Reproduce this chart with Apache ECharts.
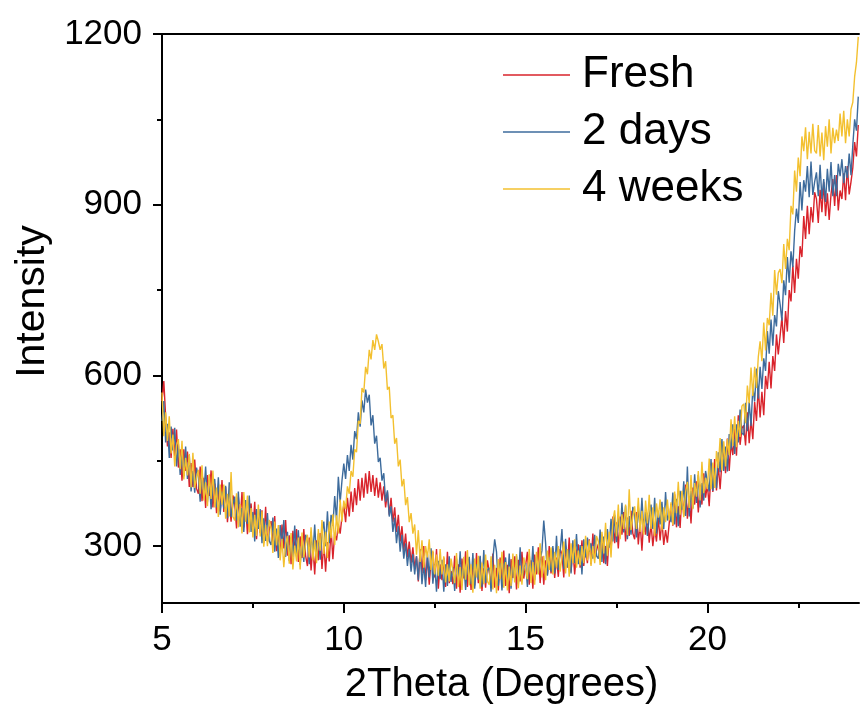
<!DOCTYPE html>
<html>
<head>
<meta charset="utf-8">
<script src="https://cdn.jsdelivr.net/npm/echarts@6/dist/echarts.min.js"></script>
<style>
html,body{margin:0;padding:0;background:#fff;}
#chart{width:861px;height:707px;}
</style>
</head>
<body>
<div id="chart"></div>
<script>
// 2Theta sampling grid (degrees)
var X_START = 5.0;
var X_STEP = 0.05;

// Intensity values, one row per degree (5.00 ... 24.15)
var fresh = [
555,590,528,475,500,455,506,458,505,438,470,415,470,432,466,404,446,404,452,401,
392,440,379,420,367,425,388,433,368,410,358,398,361,416,360,404,342,380,343,389,
375,331,386,344,395,333,371,321,361,375,325,378,312,353,323,363,306,369,308,329,
344,302,353,291,324,282,338,296,346,283,319,268,327,293,330,272,317,279,330,283,
265,315,257,300,250,310,275,323,260,305,255,307,273,330,277,323,310,338,322,352,
372,342,385,352,396,360,402,372,418,380,420,385,428,392,432,395,425,388,420,385,
412,380,405,368,395,355,385,342,368,325,355,308,335,292,322,280,308,270,298,262,
282,238,295,252,300,240,280,232,275,290,245,295,225,268,240,280,228,290,235,256,
233,283,225,268,218,278,243,291,228,273,223,265,231,288,235,281,221,261,227,275,
274,234,287,227,262,222,280,240,292,230,267,217,277,244,282,224,276,238,290,243,
240,290,232,275,225,285,250,298,235,282,232,275,250,300,252,296,244,280,246,295,
286,245,301,262,315,255,296,250,290,303,262,310,265,294,270,312,268,322,280,292,
304,275,320,270,300,265,318,290,352,305,342,296,352,320,360,308,350,318,362,322,
312,360,303,342,292,348,320,355,306,340,300,332,308,350,310,345,302,328,306,340,
374,336,391,333,370,332,392,354,408,348,387,340,403,373,414,359,408,373,428,385,
408,370,431,395,453,398,443,400,448,470,428,489,432,481,460,508,459,530,478,507,
512,477,535,481,522,488,553,520,580,526,571,530,599,576,624,577,634,608,672,637,
640,702,657,713,677,750,730,793,745,805,770,827,808,880,840,898,848,896,869,922,
910,868,926,887,940,880,920,873,918,945,898,952,890,925,910,955,908,968,918,940,
965,1010,985,1040
];
var twoDays = [
520,555,482,515,455,510,468,508,440,480,425,462,423,475,418,460,396,432,394,438,
422,378,432,390,440,378,416,365,405,418,368,421,355,396,366,406,349,412,351,372,
387,345,396,334,367,325,381,339,389,325,360,308,365,330,365,305,349,309,358,309,
302,350,290,331,279,337,300,346,281,325,274,315,280,336,282,328,267,307,272,320,
310,268,325,285,338,280,322,276,322,343,300,361,305,355,336,388,345,422,377,415,
445,418,460,432,478,452,502,488,535,510,556,535,575,552,566,512,530,480,494,448,
455,415,428,378,398,352,370,325,350,305,335,290,320,278,305,265,295,255,286,250,
282,240,293,233,268,228,286,245,296,234,268,220,274,242,276,220,268,230,282,237,
263,221,278,238,291,231,271,223,265,281,233,288,225,268,241,283,228,293,235,258,
262,220,277,312,290,230,270,222,264,280,232,287,225,268,242,283,233,298,240,263,
270,228,285,245,300,240,280,252,275,292,345,306,248,280,255,300,252,318,258,290,
330,260,313,263,294,252,310,270,321,268,302,250,312,280,315,290,305,278,320,283,
278,329,272,317,268,330,297,348,308,355,307,350,318,376,324,371,312,353,320,369,
355,315,370,330,385,325,360,318,352,373,330,385,322,362,338,378,330,395,345,358,
342,394,338,383,335,397,364,414,353,440,352,397,366,426,376,425,368,411,380,432,
432,396,453,397,437,402,465,430,488,432,475,431,497,470,514,462,514,482,540,499,
495,552,502,553,511,580,554,612,559,615,576,630,608,678,638,698,652,706,686,748,
725,696,767,741,808,763,818,790,854,893,868,940,890,943,923,968,913,976,917,940,
957,915,970,910,945,905,963,923,975,915,952,915,972,950,980,938,968,947,990,952,
1005,1050,1030,1090
];
var fourWeeks = [
570,493,535,485,528,463,496,440,477,488,435,485,417,455,424,462,403,464,402,421,
434,392,442,380,412,370,426,383,433,368,403,351,408,373,408,348,392,352,430,352,
345,393,333,374,322,395,343,389,324,367,315,355,318,373,317,361,299,337,300,346,
332,288,343,301,337,275,313,263,303,318,269,323,259,301,273,315,259,324,280,303,
320,280,333,275,310,270,330,292,346,286,325,279,343,314,356,302,354,322,382,343,
380,365,405,392,432,422,470,465,520,515,578,570,615,602,645,628,662,645,672,660,
645,655,612,625,575,580,525,530,480,490,440,452,405,418,372,386,342,358,322,338,
285,328,272,310,262,300,280,312,258,292,250,285,248,295,250,282,236,268,238,278,
275,235,288,228,263,223,281,241,293,231,268,218,278,245,283,225,271,233,285,238,
232,282,224,267,217,277,242,290,227,272,222,264,230,287,236,286,226,266,232,280,
282,242,295,235,272,232,290,250,305,245,283,240,292,258,298,250,290,262,300,255,
256,308,252,295,246,305,270,312,262,292,266,300,270,318,275,310,265,300,270,318,
308,267,325,287,341,283,325,280,345,363,317,373,312,356,330,373,319,400,328,352,
370,330,385,325,362,320,380,340,390,330,368,318,375,350,382,328,368,342,382,345,
377,337,396,358,413,355,397,351,395,413,367,425,365,411,387,432,380,448,393,420,
400,454,400,447,402,467,437,490,433,484,440,488,460,523,476,528,474,520,492,546,
550,516,582,551,614,564,615,578,632,660,625,693,644,701,688,745,705,785,742,780,
787,762,831,787,840,820,898,883,960,923,983,950,1020,994,1036,980,1028,990,1042,995,
990,1040,985,1027,978,1038,1002,1050,990,1035,1008,1032,1012,1060,1020,1065,1008,1050,1020,1068,
1080,1125,1150,1195
];

var seriesNames = ['Fresh', '2 days', '4 weeks'];
var seriesColors = ['#d9232b', '#3d6b9c', '#f3c02f'];

var xMajorTicks = [5, 10, 15, 20];
var xMinorTicks = [7.5, 12.5, 17.5, 22.5];
var yMajorTicks = [300, 600, 900, 1200];
var yMinorTicks = [450, 750, 1050];
var X_MIN = 5, X_MAX = 24.17, Y_MIN = 200, Y_MAX = 1200;

function pairs(vals) {
  var out = [];
  for (var i = 0; i < vals.length; i++) {
    out.push([+(X_START + i * X_STEP).toFixed(2), vals[i]]);
  }
  return out;
}

var FONT = '"Liberation Sans", Arial, Helvetica, sans-serif';
var black = '#000';
function plain(v) { return String(v); }

var chart = echarts.init(document.getElementById('chart'), null, {renderer: 'canvas'});
var allData = [fresh, twoDays, fourWeeks];

chart.setOption({
  animation: false,
  backgroundColor: '#fff',
  grid: {left: 162, top: 34, right: 2, bottom: 104, containLabel: false, outerBoundsMode: 'none'},
  legend: {
    orient: 'vertical',
    left: 498,
    top: 48,
    icon: 'rect',
    itemWidth: 67,
    itemHeight: 1.5,
    itemGap: 13,
    data: seriesNames,
    textStyle: {fontSize: 44, fontFamily: FONT, color: black, lineHeight: 44, padding: [0, 0, 0, 7]}
  },
  xAxis: [
    {
      type: 'value', min: X_MIN, max: X_MAX, position: 'bottom',
      axisLine: {show: true, onZero: false, lineStyle: {color: black, width: 2}},
      axisTick: {show: true, customValues: xMajorTicks, length: 10, lineStyle: {color: black, width: 2}},
      axisLabel: {customValues: xMajorTicks, formatter: plain, margin: 20, fontSize: 35, fontFamily: FONT, color: black},
      splitLine: {show: false},
      name: '2Theta (Degrees)', nameLocation: 'middle', nameGap: 62,
      nameTextStyle: {fontSize: 40, fontFamily: FONT, color: black, padding: [0, 18, 0, 0]}
    },
    {
      type: 'value', min: X_MIN, max: X_MAX, position: 'bottom',
      axisLine: {show: false},
      axisTick: {show: true, customValues: xMinorTicks, length: 5, lineStyle: {color: black, width: 2}},
      axisLabel: {show: false}, splitLine: {show: false}
    },
    {
      type: 'value', min: X_MIN, max: X_MAX, position: 'top',
      axisLine: {show: true, onZero: false, lineStyle: {color: black, width: 2}},
      axisTick: {show: false}, axisLabel: {show: false}, splitLine: {show: false}
    }
  ],
  yAxis: [
    {
      type: 'value', min: Y_MIN, max: Y_MAX, position: 'left',
      axisLine: {show: true, onZero: false, lineStyle: {color: black, width: 2}},
      axisTick: {show: true, customValues: yMajorTicks, length: 9, lineStyle: {color: black, width: 2}},
      axisLabel: {customValues: yMajorTicks, formatter: plain, margin: 20, fontSize: 35, fontFamily: FONT, color: black},
      splitLine: {show: false},
      name: 'Intensity', nameLocation: 'middle', nameGap: 98, nameRotate: 90,
      nameTextStyle: {fontSize: 41, fontFamily: FONT, color: black, padding: [0, 0, 0, 34]}
    },
    {
      type: 'value', min: Y_MIN, max: Y_MAX, position: 'left',
      axisLine: {show: false},
      axisTick: {show: true, customValues: yMinorTicks, length: 5, lineStyle: {color: black, width: 2}},
      axisLabel: {show: false}, splitLine: {show: false}
    }
  ],
  series: seriesNames.map(function (name, k) {
    return {
      name: name,
      type: 'line',
      xAxisIndex: 0,
      yAxisIndex: 0,
      data: pairs(allData[k]),
      showSymbol: false,
      symbol: 'none',
      clip: true,
      color: seriesColors[k],
      lineStyle: {color: seriesColors[k], width: 1.4},
      z: 2 + k
    };
  })
});
</script>
</body>
</html>
